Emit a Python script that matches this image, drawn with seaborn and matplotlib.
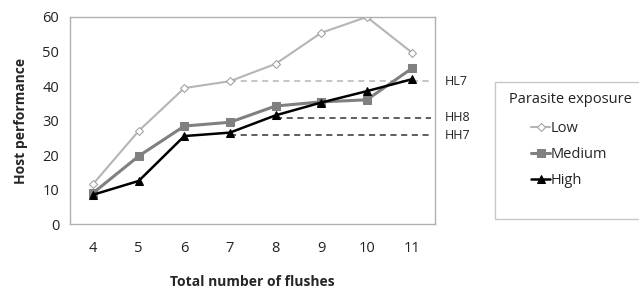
import pandas as pd
import matplotlib.pyplot as plt
import seaborn as sns
from matplotlib.patches import Rectangle

flushes = [4, 5, 6, 7, 8, 9, 10, 11]
low = [11.6, 27.0, 39.4, 41.4, 46.4, 55.4, 60.0, 49.6]
medium = [9.0, 19.7, 28.4, 29.5, 34.2, 35.4, 36.0, 45.2]
high = [8.5, 12.5, 25.5, 26.5, 31.5, 35.2, 38.5, 42.0]

ref_labels = ['HL7', 'HH8', 'HH7']
ref_start = [7, 8, 7]
ref_value = [41.4, 30.8, 25.8]

df = pd.DataFrame({
    'flushes': flushes * 3,
    'value': low + medium + high,
    'exposure': ['Low'] * 8 + ['Medium'] * 8 + ['High'] * 8,
})

sns.set_style('white')
plt.rcParams['font.family'] = ['Open Sans', 'DejaVu Sans']

fig = plt.figure(figsize=(6.39, 2.88), dpi=100)
ax = fig.add_axes([0.110, 0.222, 0.571, 0.719])

styles = {
    'Low': dict(color='#b5b5b5', marker='D', mfc='white', mec='#a0a0a0', ms=5, lw=1.5),
    'Medium': dict(color='#808080', marker='s', mfc='#808080', mec='#808080', ms=7, lw=2.2),
    'High': dict(color='black', marker='^', mfc='black', mec='black', ms=7, lw=1.8),
}

for name in ['Low', 'Medium', 'High']:
    st = styles[name]
    sub = df[df['exposure'] == name]
    sns.lineplot(data=sub, x='flushes', y='value', ax=ax, color=st['color'],
                 marker=st['marker'], markerfacecolor=st['mfc'],
                 markeredgecolor=st['mec'], markersize=st['ms'],
                 linewidth=st['lw'], label=name, legend=False)

ref_colors = ['#b5b5b5', '#333333', '#333333']
for lab, x0, v, c in zip(ref_labels, ref_start, ref_value, ref_colors):
    ax.plot([x0, 11.4], [v, v], ls=(0, (4, 3)), color=c, lw=1.1, zorder=1)
    ax.text(11.7, v, lab, fontsize=9, va='center', ha='left', color='#222222',
            clip_on=False)

ax.set_xlim(3.5, 11.5)
ax.set_ylim(0, 60)
ax.set_xticks(flushes)
ax.set_yticks(range(0, 61, 10))
ax.tick_params(axis='both', labelsize=10.5, length=0, pad=12, colors='#222222')
ax.tick_params(axis='y', pad=8)
for s in ax.spines.values():
    s.set_color('#b0b0b0')
    s.set_linewidth(1)

ax.set_xlabel('Total number of flushes', fontsize=10, fontweight='bold', labelpad=14)
ax.set_ylabel('Host performance', fontsize=10, fontweight='bold', labelpad=10)

fig.patches.append(Rectangle((0.775, 0.24), 0.3, 0.475, transform=fig.transFigure,
                             facecolor='white', edgecolor='#c8c8c8', lw=1))
fig.text(0.797, 0.655, 'Parasite exposure', fontsize=10.5, va='center', color='#222222')
handles, labels = ax.get_legend_handles_labels()
for h in handles:
    h.set_markersize(h.get_markersize() * 0.8)
fig.legend(handles, labels, loc='upper left', bbox_to_anchor=(0.82, 0.605),
           frameon=False, fontsize=10.5, handlelength=1.3, handletextpad=0.05,
           labelspacing=0.75, borderpad=0)

fig.savefig('out.png', dpi=100)
